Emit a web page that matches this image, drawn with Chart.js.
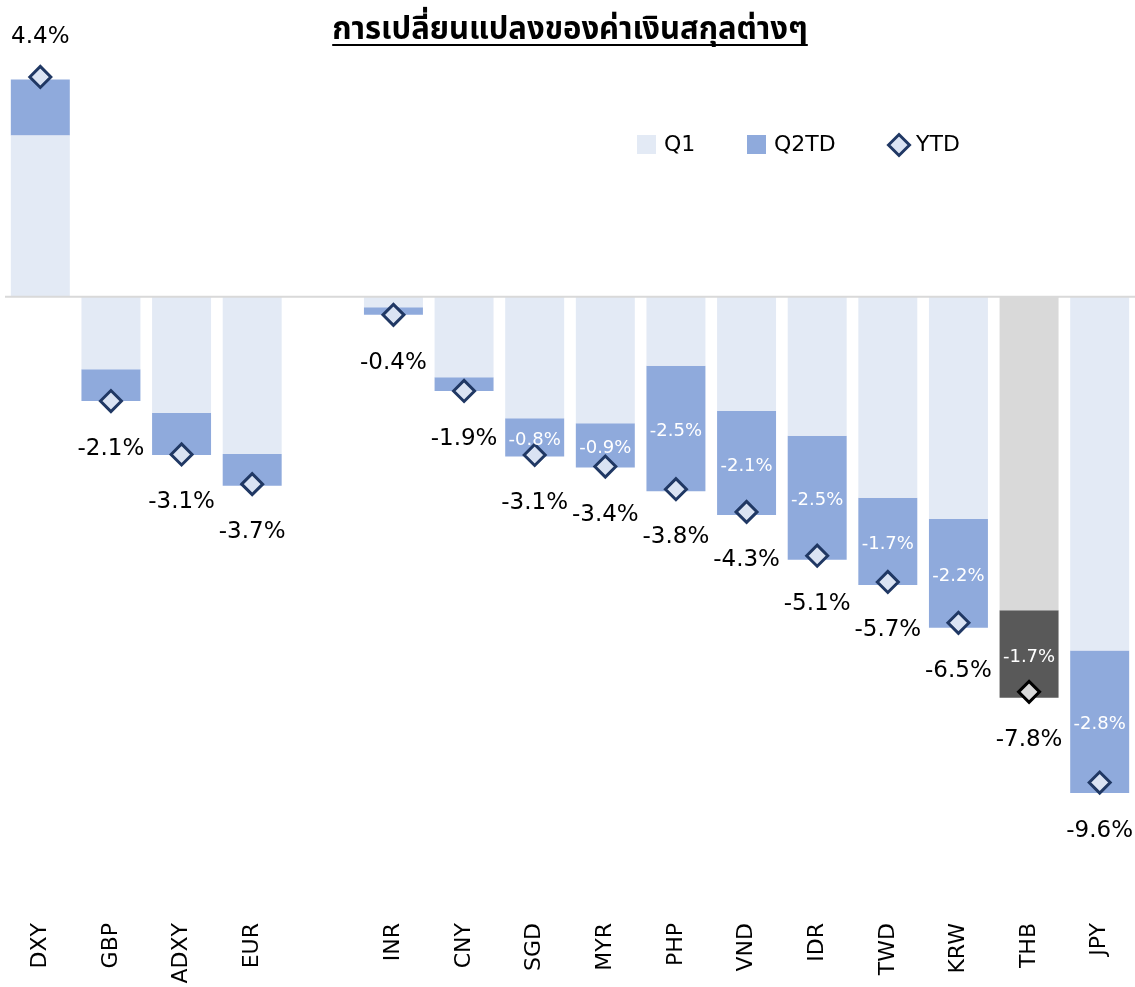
<!DOCTYPE html>
<html lang="th">
<head>
<meta charset="utf-8">
<title>การเปลี่ยนแปลงของค่าเงินสกุลต่างๆ</title>
<script src="https://cdn.jsdelivr.net/npm/chart.js@4.4.1/dist/chart.umd.min.js"></script>
<style>
  html, body { margin: 0; padding: 0; background: #fff; }
  #caja { width: 1135px; height: 987px; position: relative; }
</style>
</head>
<body>
<div id="caja"><canvas id="grafico"></canvas></div>
<script>
// DATOS (en %)
const monedas = ["DXY", "GBP", "ADXY", "EUR", "", "INR", "CNY", "SGD", "MYR", "PHP", "VND", "IDR", "TWD", "KRW", "THB", "JPY"];
const q1 = [3.2, -1.44, -2.31, -3.12, null, -0.21, -1.6, -2.41, -2.51, -1.37, -2.27, -2.76, -3.99, -4.41, -6.22, -7.02];
const q2td = [1.11, -0.63, -0.83, -0.63, null, -0.15, -0.27, -0.76, -0.88, -2.49, -2.06, -2.46, -1.73, -2.16, -1.74, -2.83];
const ytd = [4.36, -2.07, -3.13, -3.72, null, -0.36, -1.87, -3.14, -3.37, -3.82, -4.27, -5.14, -5.66, -6.47, -7.84, -9.64];
const conEtiquetaQ2 = ["SGD", "MYR", "PHP", "VND", "IDR", "TWD", "KRW", "THB", "JPY"];
const titulo = "การเปลี่ยนแปลงของค่าเงินสกุลต่างๆ";

// colores
const cQ1 = "#e3eaf5", cQ2 = "#8faadc", cRombo = "#dae3f3", cBorde = "#203864";
const esThb = (m) => m === "THB";

const fuente = "'DejaVu Sans', Verdana, sans-serif";
const fuenteTitulo = "Tahoma, 'Noto Sans Thai', 'Leelawadee UI', 'DejaVu Sans', sans-serif";
Chart.defaults.font.family = fuente;
Chart.defaults.color = "#000";

const fmt = (v) => v.toFixed(1) + "%";

// linea cero, etiquetas, leyenda y subrayado del titulo
const extras = {
  id: "extras",
  afterDatasetsDraw(chart) {
    const ctx = chart.ctx;
    const area = chart.chartArea;
    const y0 = chart.scales.y.getPixelForValue(0);
    ctx.save();
    ctx.strokeStyle = "#d9d9d9";
    ctx.lineWidth = 2;
    ctx.beginPath();
    ctx.moveTo(area.left, y0);
    ctx.lineTo(area.right, y0);
    ctx.stroke();

    // etiquetas Q2TD dentro de la barra
    const barras = chart.getDatasetMeta(1).data;
    ctx.fillStyle = "#fff";
    ctx.font = "18px " + fuente;
    ctx.textAlign = "center";
    ctx.textBaseline = "middle";
    monedas.forEach((m, i) => {
      if (!conEtiquetaQ2.includes(m) || q2td[i] == null) return;
      const b = barras[i];
      ctx.fillText(fmt(q2td[i]), b.x, (b.y + b.base) / 2 + 3);
    });

    // etiquetas YTD
    const puntos = chart.getDatasetMeta(2).data;
    ctx.fillStyle = "#000";
    ctx.font = "23px " + fuente;
    monedas.forEach((m, i) => {
      if (ytd[i] == null) return;
      const p = puntos[i];
      ctx.fillText(fmt(ytd[i]), p.x, p.y + (ytd[i] < 0 ? 48 : -40));
    });
    ctx.restore();
  },
  afterDraw(chart) {
    const ctx = chart.ctx;
    ctx.save();
    // subrayado del titulo
    const t = chart.titleBlock;
    ctx.font = Chart.helpers.toFont(chart.options.plugins.title.font).string;
    const w = ctx.measureText(titulo).width;
    const cx = (t.left + t.right) / 2;
    ctx.strokeStyle = "#000";
    ctx.lineWidth = 2;
    ctx.beginPath();
    ctx.moveTo(cx - w / 2, 45);
    ctx.lineTo(cx + w / 2, 45);
    ctx.stroke();

    // leyenda
    ctx.font = "22px " + fuente;
    ctx.textAlign = "left";
    ctx.textBaseline = "middle";
    ctx.fillStyle = cQ1;
    ctx.fillRect(637, 135, 19, 19);
    ctx.fillStyle = cQ2;
    ctx.fillRect(747, 135, 19, 19);
    ctx.beginPath();
    ctx.moveTo(888.5, 145);
    ctx.lineTo(899, 134.5);
    ctx.lineTo(909.5, 145);
    ctx.lineTo(899, 155.5);
    ctx.closePath();
    ctx.fillStyle = cRombo;
    ctx.fill();
    ctx.strokeStyle = cBorde;
    ctx.lineWidth = 3;
    ctx.stroke();
    ctx.fillStyle = "#000";
    ctx.fillText("Q1", 664, 145);
    ctx.fillText("Q2TD", 774, 145);
    ctx.fillText("YTD", 916, 145);
    ctx.restore();
  },
};

new Chart(document.getElementById("grafico"), {
  type: "bar",
  data: {
    labels: monedas,
    datasets: [
      {
        label: "Q1",
        data: q1,
        backgroundColor: monedas.map((m) => (esThb(m) ? "#d9d9d9" : cQ1)),
        borderWidth: 0,
        stack: "barra",
      },
      {
        label: "Q2TD",
        data: q2td,
        backgroundColor: monedas.map((m) => (esThb(m) ? "#595959" : cQ2)),
        borderWidth: 0,
        stack: "barra",
      },
      {
        type: "line",
        label: "YTD",
        data: ytd,
        showLine: false,
        stack: "ytd",
        order: -1,
        pointStyle: "rectRot",
        pointRadius: 10.5,
        pointBorderWidth: 3,
        pointBackgroundColor: monedas.map((m) => (esThb(m) ? "#d9d9d9" : cRombo)),
        pointBorderColor: monedas.map((m) => (esThb(m) ? "#000" : cBorde)),
      },
    ],
  },
  options: {
    responsive: true,
    maintainAspectRatio: false,
    animation: false,
    categoryPercentage: 1,
    barPercentage: 0.835,
    layout: { autoPadding: false, padding: { left: 5, right: 0, top: 0, bottom: 0 } },
    plugins: {
      legend: { display: false },
      tooltip: { enabled: false },
      title: {
        display: true,
        text: titulo,
        color: "#000",
        font: { size: 31, weight: "bold", family: fuenteTitulo },
        padding: { top: 14, bottom: 0 },
      },
    },
    scales: {
      x: {
        stacked: true,
        grid: { display: false, drawTicks: false },
        border: { display: false },
        ticks: {
          autoSkip: false,
          maxRotation: 90,
          minRotation: 90,
          padding: 18,
          color: "#000",
          font: { size: 22 },
        },
        afterFit(scale) {
          scale.height = 82;
          scale.paddingLeft = 0;
          scale.paddingRight = 0;
        },
      },
      y: {
        stacked: true,
        display: false,
        min: -12.07,
        max: 4.871,
      },
    },
  },
  plugins: [extras],
});
</script>
</body>
</html>
